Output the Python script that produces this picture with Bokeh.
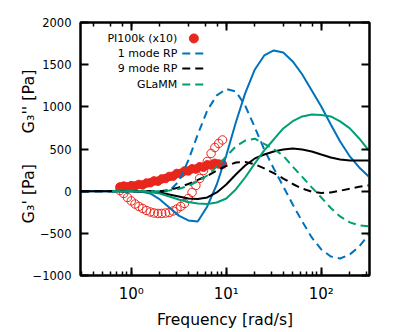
from bokeh.plotting import figure
from bokeh.models import LogAxis, LinearAxis, FixedTicker
from bokeh.embed import file_html
from bokeh.resources import INLINE
from bokeh.core.properties import value

# ---------------- data ----------------
omega_model = [0.3, 0.4, 0.5, 0.63, 0.79, 1.0, 1.26, 1.58, 2.0, 2.51, 3.16, 3.98, 5.01,
               6.31, 7.94, 10.0, 12.6, 15.8, 20.0, 25.1, 31.6, 39.8, 50.1, 63.1, 79.4,
               100.0, 126.0, 158.0, 200.0, 251.0, 316.0]

# 1 mode RP
rp1_gp = [0, 0, 0, 0, 0, 0, 0, 0, 0, 0, 115, 364, 672, 957, 1135, 1212, 1182, 1016,
          755, 494, 269, 56, -158, -360, -549, -691, -774, -798, -750, -656, -514]
rp1_gpp = [0, 0, 0, 0, 0, 0, -4, -27, -98, -193, -290, -347, -359, -181, 79, 423, 815,
           1159, 1443, 1609, 1669, 1645, 1538, 1383, 1194, 1005, 791, 589, 412, 281, 174]

# 9 mode RP
rp9_gp = [0, 0, 0, 0, 0, 0, 0, 0, 0, 14, 44, 85, 133, 180, 245, 299, 340, 345, 320,
          270, 215, 150, 85, 30, -5, -21, -15, 5, 30, 52, 68]
rp9_gpp = [0, 0, 0, 0, 0, 0, -4, -4, -15, -39, -63, -87, -93, -75, -15, 79, 198, 305,
           388, 435, 471, 495, 506, 495, 471, 435, 400, 376, 364, 364, 364]

# GLaMM (starts at 0.63 rad/s)
omega_glamm = omega_model[3:]
glamm_gp = [0, 0, 0, 0, 0, 0, 8, 26, 62, 115, 186, 293, 412, 530, 600, 622, 560, 500,
            420, 290, 170, 45, -75, -200, -300, -370, -405, -415]
glamm_gpp = [0, 0, 0, 0, -12, -27, -63, -98, -128, -146, -152, -134, -87, 20, 162, 329,
             483, 613, 744, 830, 886, 910, 904, 886, 827, 744, 625, 483]

# PI100k experiment
omega_exp = [0.759, 0.832, 0.912, 1.000, 1.096, 1.202, 1.318, 1.445, 1.585, 1.738,
             1.905, 2.089, 2.291, 2.512, 2.754, 3.020, 3.311, 3.631, 3.981, 4.365,
             4.786, 5.248, 5.754, 6.310, 6.918, 7.586, 8.318, 9.120]
exp_gp = [8, -27, -75, -116, -152, -181, -205, -229, -247, -259, -264, -264, -259,
          -253, -235, -211, -181, -146, -87, -15, 68, 151, 245, 352, 447, 518, 566, 607]
exp_gpp_x10 = [50, 60, 52, 66, 62, 80, 74, 96, 100, 122, 118, 145, 150, 175, 178, 210,
               210, 240, 240, 265, 262, 290, 285, 312, 310, 330, 322, 318]

y_ticks = [-1000, -500, 0, 500, 1000, 1500, 2000]
x_tick_labels = {1: "10\u2070", 10: "10\u00b9", 100: "10\u00b2"}
y_label_parts = ["G\u2083' [Pa]", "G\u2083'' [Pa]"]
legend_labels = ["PI100k (x10)", "1 mode RP", "9 mode RP", "GLaMM"]
legend_y = [1811, 1633, 1455, 1265]
legend_text_x = 3.05
legend_key_x0, legend_key_x1, legend_dot_x = 3.44, 5.81, 4.56

RED = "#e8261c"
BLUE = "#0072bd"
GREEN = "#009e73"
BLACK = "#000000"
FONT = "DejaVu Sans"

# ---------------- figure ----------------
p = figure(width=375, height=332, x_axis_type="log", x_range=(0.292, 322),
           y_range=(-1000, 2000), output_backend="svg", toolbar_location=None,
           min_border_left=80, min_border_right=6, min_border_top=22,
           min_border_bottom=57)
p.xgrid.visible = False
p.ygrid.visible = False
p.outline_line_color = "black"
p.outline_line_width = 2
p.background_fill_color = "white"
p.border_fill_color = "white"

p.add_layout(LogAxis(), "above")
p.add_layout(LinearAxis(), "right")

for ax in p.xaxis + p.yaxis:
    ax.axis_line_width = 2
    ax.axis_line_color = "black"
    ax.major_tick_in = 8
    ax.major_tick_out = 0
    ax.minor_tick_in = 4
    ax.minor_tick_out = 0
    ax.major_tick_line_width = 2
    ax.minor_tick_line_width = 1.5
    ax.major_tick_line_color = "black"
    ax.minor_tick_line_color = "black"
    ax.major_label_text_font = FONT
    ax.major_label_text_color = "black"
    ax.axis_label_text_font = FONT
    ax.axis_label_text_font_style = "normal"
    ax.axis_label_text_color = "black"

for ax in p.yaxis:
    ax.ticker = FixedTicker(ticks=y_ticks)
    ax.minor_tick_line_color = None

bottom = p.below[0]
bottom.major_label_overrides = x_tick_labels
bottom.major_label_text_font_size = "15px"
bottom.major_label_standoff = 9
bottom.axis_label = "Frequency [rad/s]"
bottom.axis_label_text_font_size = "15.5px"
bottom.axis_label_standoff = 5

NBSP = "\u00a0"
left = p.left[0]
left.major_label_text_font_size = "11.5px"
left.major_label_standoff = 9
left.axis_label = NBSP + y_label_parts[0] + NBSP * 6 + y_label_parts[1]
left.axis_label_text_font_size = "16px"
left.axis_label_standoff = -8

for ax in (p.above[0], p.right[0]):
    ax.major_label_text_font_size = "1px"
    ax.major_label_text_alpha = 0
    ax.major_label_standoff = 0
    ax.axis_label_standoff = 0

# ---------------- data marks ----------------
p.scatter(omega_exp, exp_gp, size=8.5, marker="circle", fill_color=None,
          line_color=RED, line_width=1)
p.scatter(omega_exp, exp_gpp_x10, size=8.5, marker="circle", fill_color=RED,
          line_color=RED, line_width=1)

DASH = "8 5"
p.line(omega_model, rp1_gp, line_color=BLUE, line_width=2, line_dash=DASH)
p.line(omega_model, rp1_gpp, line_color=BLUE, line_width=2)
p.line(omega_model, rp9_gp, line_color=BLACK, line_width=2, line_dash=DASH)
p.line(omega_model, rp9_gpp, line_color=BLACK, line_width=2)
p.line(omega_glamm, glamm_gp, line_color=GREEN, line_width=2, line_dash=DASH)
p.line(omega_glamm, glamm_gpp, line_color=GREEN, line_width=2)

# ---------------- legend (text left of key, as in the original) ----------------
p.text(x=[legend_text_x] * 4, y=legend_y, text=legend_labels, text_align="right",
       text_baseline="middle", text_font=value(FONT), text_font_size="11px",
       text_color="black")
p.scatter([legend_dot_x], [legend_y[0]], size=9, marker="circle", fill_color=RED,
          line_color=RED)
key_colors = [BLUE, BLACK, GREEN]
p.segment(x0=[legend_key_x0] * 3, y0=legend_y[1:], x1=[legend_key_x1] * 3,
          y1=legend_y[1:], line_color=key_colors, line_width=2, line_dash=DASH)

open("out.html", "w").write(file_html(p, INLINE))
